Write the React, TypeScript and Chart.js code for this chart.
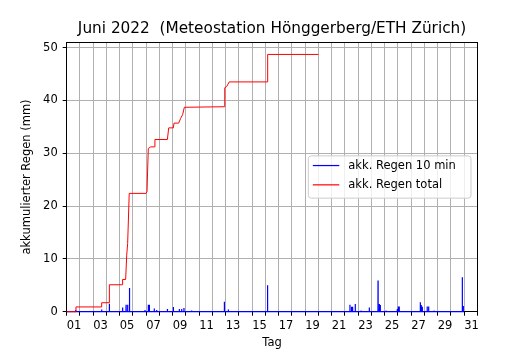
import React, { useEffect, useRef } from "react";
import { Chart, registerables } from "chart.js";

Chart.register(...registerables);

// ---- texts ----
const TITLE = "Juni 2022  (Meteostation Hönggerberg/ETH Zürich)";
const X_LABEL = "Tag";
const Y_LABEL = "akkumulierter Regen (mm)";
const SERIES_NAMES = ["akk. Regen 10 min", "akk. Regen total"];
const DAY_TICK_LABELS = ["01", "03", "05", "07", "09", "11", "13", "15", "17", "19", "21", "23", "25", "27", "29", "31"];

// ---- axis ranges (x: days since 1 June 00:00) ----
const X_MIN = 0;
const X_MAX = 31;
const Y_MIN = 0;
const Y_MAX = 51;

// ---- cumulative total rain (red) ----
const totalDays = [0, 0.7, 0.7, 2.64, 2.64, 3.22, 3.22, 4.2, 4.22, 4.45, 4.53, 4.6, 4.72, 5.98, 6.06, 6.16, 6.34, 6.62, 6.66, 7.6, 7.7, 8.05, 8.1, 8.45, 8.6, 8.75, 8.88, 11.9, 11.93, 12.07, 12.27, 15.14, 15.17, 19.0];
const totalMm = [0, 0, 0.9, 0.9, 1.7, 1.7, 5.1, 5.1, 6.1, 6.1, 10.7, 12.9, 22.4, 22.4, 22.7, 30.9, 31.2, 31.2, 32.6, 32.6, 34.8, 34.8, 35.7, 35.7, 36.6, 37.3, 38.7, 38.8, 42.4, 42.6, 43.5, 43.5, 48.7, 48.7];

// ---- 10-minute rain amounts (blue) ----
const rainStart = 0;
const rainEnd = 29.95;
const rainInterval = 1 / 144; // 10 minutes in days
const rainDays = [0.68, 2.64, 3.22, 4.22, 4.48, 4.6, 4.73, 4.75, 5.91, 6.16, 6.24, 6.61, 6.79, 7.6, 8.05, 8.5, 8.68, 8.85, 9.43, 11.9, 12.2, 15.16, 21.38, 21.5, 21.58, 21.78, 22.21, 22.84, 23.5, 23.6, 23.67, 24.1, 24.95, 25.03, 25.1, 26.69, 26.76, 26.84, 27.21, 27.32, 27.72, 29.86, 29.93];
const rainMm = [0.3, 0.4, 1.5, 0.8, 1.3, 1.3, 4.5, 3.5, 0.3, 1.3, 1.3, 0.6, 0.3, 0.5, 0.9, 0.5, 0.5, 0.7, 0.25, 1.9, 0.4, 5.0, 1.3, 0.95, 0.95, 1.45, 0.2, 0.8, 5.9, 1.45, 1.25, 0.2, 0.5, 1.0, 1.0, 1.8, 1.25, 0.95, 1.0, 1.0, 0.2, 6.5, 1.1];

const COLORS = ["#0000ff", "#ff0000"];
const FONT = "'DejaVu Sans', sans-serif";

function buildRainSeries() {
  const pts: { x: number; y: number }[] = [{ x: rainStart, y: 0 }];
  rainDays.forEach((d, i) => {
    pts.push({ x: d - rainInterval, y: 0 });
    pts.push({ x: d, y: rainMm[i] });
    pts.push({ x: d + rainInterval, y: 0 });
  });
  pts.push({ x: rainEnd, y: 0 });
  return pts;
}

function buildTotalSeries() {
  return totalDays.map((d, i) => ({ x: d, y: totalMm[i] }));
}

const framePlugin = {
  id: "frame",
  beforeDatasetsDraw(chart: any) {
    const { ctx, chartArea: a } = chart;
    const al = (p: number) => Math.round(p - 0.5) + 0.5;
    ctx.save();
    ctx.strokeStyle = "#000";
    ctx.lineWidth = 1;
    ctx.strokeRect(al(a.left), al(a.top), al(a.right) - al(a.left), al(a.bottom) - al(a.top));
    ctx.restore();
  },
};

const legendPlugin = {
  id: "insideLegend",
  afterDraw(chart: any) {
    const { ctx, chartArea: a } = chart;
    const w = 162.7;
    const h = 42.3;
    const right = a.right - 6.4;
    const left = right - w;
    const top = (a.top + a.bottom) / 2 - h / 2;
    const r = 3;
    ctx.save();
    ctx.beginPath();
    ctx.moveTo(left + r, top);
    ctx.lineTo(left + w - r, top);
    ctx.arcTo(left + w, top, left + w, top + r, r);
    ctx.lineTo(left + w, top + h - r);
    ctx.arcTo(left + w, top + h, left + w - r, top + h, r);
    ctx.lineTo(left + r, top + h);
    ctx.arcTo(left, top + h, left, top + h - r, r);
    ctx.lineTo(left, top + r);
    ctx.arcTo(left, top, left + r, top, r);
    ctx.closePath();
    ctx.fillStyle = "rgba(255,255,255,0.8)";
    ctx.fill();
    ctx.strokeStyle = "#cccccc";
    ctx.lineWidth = 1;
    ctx.stroke();
    ctx.font = `11.5px ${FONT}`;
    ctx.textBaseline = "middle";
    ctx.textAlign = "left";
    SERIES_NAMES.forEach((name, i) => {
      const y = top + 9.7 + i * 19.3;
      ctx.beginPath();
      ctx.strokeStyle = COLORS[i];
      ctx.lineWidth = 1.2;
      ctx.moveTo(left + 4.5, y);
      ctx.lineTo(left + 31, y);
      ctx.stroke();
      ctx.fillStyle = "#000";
      ctx.fillText(name, left + 40, y);
    });
    ctx.restore();
  },
};

export default function App() {
  const ref = useRef<HTMLCanvasElement | null>(null);

  useEffect(() => {
    if (!ref.current) return;
    const chart = new Chart(ref.current, {
      type: "line",
      data: {
        datasets: [
          {
            label: SERIES_NAMES[0],
            data: buildRainSeries(),
            borderColor: COLORS[0],
            borderWidth: 1.2,
            pointRadius: 0,
            tension: 0,
            fill: false,
            order: 1,
            clip: 4,
          } as any,
          {
            label: SERIES_NAMES[1],
            data: buildTotalSeries(),
            borderColor: COLORS[1],
            borderWidth: 1,
            pointRadius: 0,
            tension: 0,
            fill: false,
            order: 0,
            clip: 4,
          } as any,
        ],
      },
      options: {
        responsive: false,
        devicePixelRatio: 1,
        animation: false,
        parsing: false as any,
        layout: { padding: { left: 0, right: 52.6, top: 0, bottom: 0 } },
        plugins: {
          legend: { display: false },
          tooltip: { enabled: false },
          title: {
            display: true,
            fullSize: false,
            text: TITLE,
            color: "#000",
            font: { family: FONT, size: 15.3, weight: "normal" as any, lineHeight: 1.2 },
            padding: { top: 19.8, bottom: 4.14 },
          },
        },
        scales: {
          x: {
            type: "linear",
            min: X_MIN,
            max: X_MAX,
            afterFit: (s: any) => {
              s.height = 38.3;
            },
            ticks: {
              stepSize: 1,
              autoSkip: false,
              maxRotation: 0,
              minRotation: 0,
              align: "start",
              padding: 3,
              color: "#000",
              font: { family: FONT, size: 11.5, lineHeight: 1.2 },
              callback: (v: any) => {
                const n = Math.round(Number(v));
                return n % 2 === 0 ? DAY_TICK_LABELS[n / 2] ?? "" : "";
              },
            },
            grid: { color: "#b0b0b0", lineWidth: 1, tickColor: "#000", tickLength: 4, drawTicks: true },
            border: { display: false },
            title: {
              display: true,
              text: X_LABEL,
              color: "#000",
              font: { family: FONT, size: 11.5, lineHeight: 1.2 },
              padding: { top: 4, bottom: 0.5 },
            },
          },
          y: {
            type: "linear",
            min: Y_MIN,
            max: Y_MAX,
            afterFit: (s: any) => {
              s.width = 66.7;
            },
            ticks: {
              stepSize: 10,
              includeBounds: false,
              padding: 5,
              color: "#000",
              font: { family: FONT, size: 11.5, lineHeight: 1.2 },
            },
            grid: { color: "#b0b0b0", lineWidth: 1, tickColor: "#000", tickLength: 4, drawTicks: true },
            border: { display: false },
            title: {
              display: true,
              text: Y_LABEL,
              color: "#000",
              font: { family: FONT, size: 11.5, lineHeight: 1.2 },
              padding: { top: 20, bottom: 0 },
            },
          },
        },
      } as any,
      plugins: [framePlugin, legendPlugin],
    });
    return () => chart.destroy();
  }, []);

  return (
    <div style={{ position: "absolute", left: 0, top: 0, width: 530, height: 350, background: "#fff" }}>
      <canvas ref={ref} width={530} height={350} style={{ display: "block" }} />
    </div>
  );
}
